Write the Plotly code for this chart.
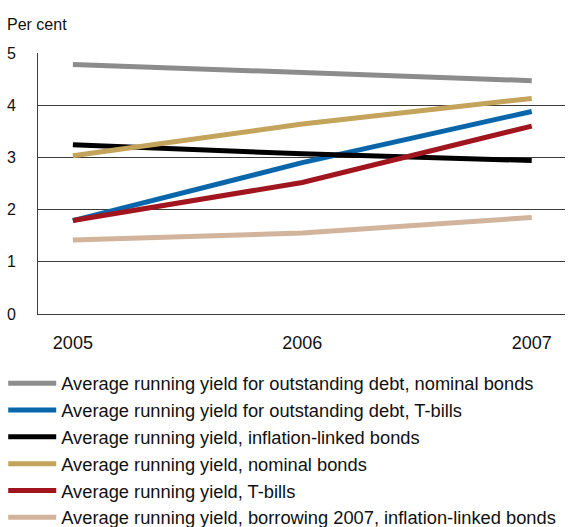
import plotly.graph_objects as go

years = [2005, 2006, 2007]

series_names = [
    "Average running yield for outstanding debt, nominal bonds",
    "Average running yield for outstanding debt, T-bills",
    "Average running yield, inflation-linked bonds",
    "Average running yield, nominal bonds",
    "Average running yield, T-bills",
    "Average running yield, borrowing 2007, inflation-linked bonds",
]

outstanding_nominal = [4.78, 4.62, 4.47]
outstanding_tbills = [1.79, 2.90, 3.88]
inflation_linked = [3.24, 3.07, 2.94]
nominal_bonds = [3.03, 3.64, 4.13]
tbills = [1.79, 2.52, 3.60]
borrowing_2007_il = [1.42, 1.55, 1.85]

series_values = [
    outstanding_nominal,
    outstanding_tbills,
    inflation_linked,
    nominal_bonds,
    tbills,
    borrowing_2007_il,
]

colors = ["#8c8c8c", "#0a66ab", "#000000", "#c4a35a", "#a0151e", "#d2b39b"]

y_ticks = [0, 1, 2, 3, 4, 5]
x_ticks = [2005, 2006, 2007]

font_family = "Liberation Sans, Arial, Helvetica, sans-serif"
axis_color = "#3c3c3c"

fig = go.Figure()
for name, vals, col in zip(series_names, series_values, colors):
    fig.add_trace(
        go.Scatter(
            x=years,
            y=vals,
            mode="lines",
            name=name,
            line=dict(color=col, width=5),
        )
    )

fig.update_layout(
    width=569,
    height=527,
    margin=dict(l=38, r=4, t=53, b=213, autoexpand=False),
    paper_bgcolor="white",
    plot_bgcolor="white",
    font=dict(family=font_family, size=16, color="#111111"),
    showlegend=True,
    legend=dict(
        x=-0.066,
        xanchor="left",
        y=-0.195,
        yanchor="top",
        orientation="v",
        font=dict(size=18.3, color="#111111"),
        itemwidth=48,
        tracegroupgap=0,
        bgcolor="rgba(0,0,0,0)",
    ),
    xaxis=dict(
        range=[2004.848, 2007.145],
        tickmode="array",
        tickvals=x_ticks,
        ticktext=[str(v) for v in x_ticks],
        showgrid=False,
        zeroline=False,
        showline=True,
        linecolor=axis_color,
        linewidth=1,
        ticks="",
        ticklabelstandoff=12,
        tickfont=dict(size=18),
    ),
    yaxis=dict(
        range=[0, 5],
        tickmode="array",
        tickvals=y_ticks,
        showgrid=True,
        gridcolor=axis_color,
        gridwidth=1,
        zeroline=False,
        showline=True,
        linecolor=axis_color,
        linewidth=1,
        ticks="",
        ticklabelstandoff=18,
        tickfont=dict(size=16),
    ),
    annotations=[
        dict(
            text="Per cent",
            xref="paper",
            yref="paper",
            x=-0.063,
            y=1.111,
            xanchor="left",
            yanchor="middle",
            showarrow=False,
            font=dict(size=16, color="#111111"),
        )
    ],
)

fig.write_html("out.html")
